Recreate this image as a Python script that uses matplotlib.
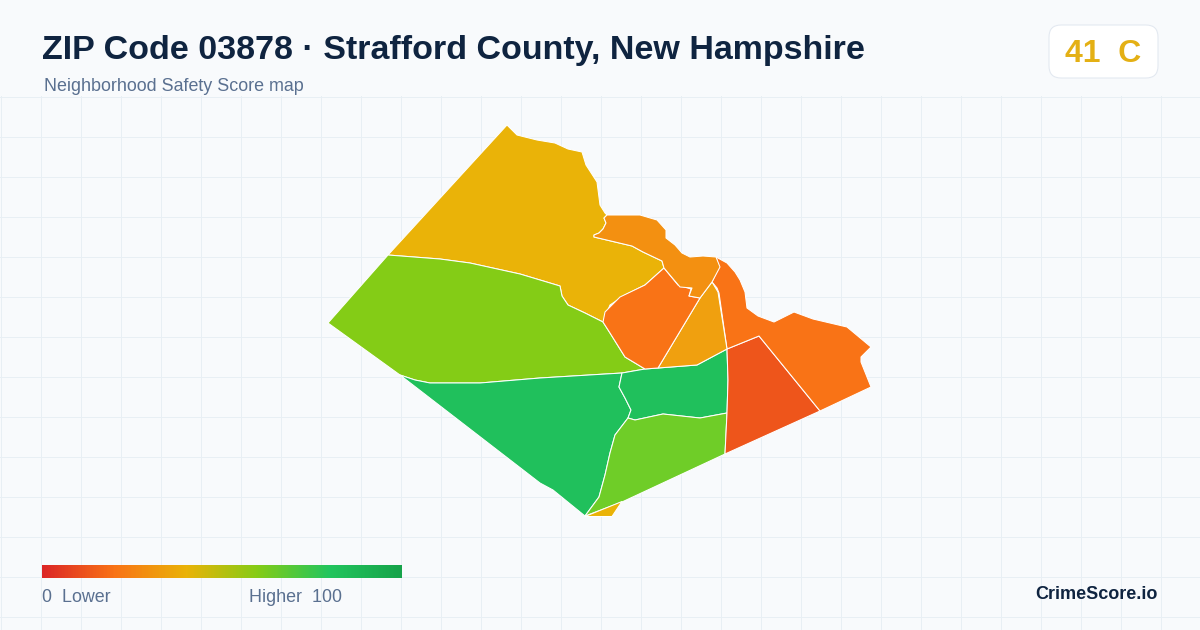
import matplotlib
matplotlib.use('Agg')
import matplotlib.pyplot as plt
from matplotlib.colors import LinearSegmentedColormap
from matplotlib.patches import FancyBboxPatch, Polygon
import numpy as np

plt.rcParams['font.family'] = ['Liberation Sans', 'DejaVu Sans']

# Area outlines
north_area = [(507, 125), (517, 135), (537, 140), (555, 143), (568, 149), (582, 152), (586, 165), (597, 182),
              (600, 205), (605, 213), (607, 215), (604, 218), (606, 223), (603, 229), (599, 233), (594, 235), (594, 237),
              (632, 246), (643, 252), (662, 261), (664, 268), (645, 285), (625, 295), (610, 305), (603, 322),
              (585, 313), (568, 305), (562, 296), (560, 286), (520, 274), (470, 263), (440, 259), (388, 255)]
west_area = [(388, 255), (440, 259), (470, 263), (520, 274), (560, 286), (562, 296), (568, 305), (585, 313),
             (603, 322), (610, 333), (625, 357), (645, 369), (622, 373), (540, 378), (480, 383), (430, 383),
             (415, 380), (400, 375), (328, 323)]
southwest_area = [(400, 375), (415, 380), (430, 383), (480, 383), (540, 378), (622, 373), (619, 387), (625, 398),
                  (631, 410), (628, 418), (615, 435), (610, 453), (605, 475), (599, 497), (585, 516), (553, 490),
                  (540, 483)]
middle_area = [(622, 373), (645, 369), (658, 368), (697, 365), (712, 357), (727, 349), (728, 380), (727, 413),
               (700, 418), (663, 414), (635, 420), (628, 418), (631, 410), (625, 398), (619, 387)]
south_area = [(628, 418), (635, 420), (663, 414), (700, 418), (727, 413), (725, 454), (622, 502), (585, 516),
              (599, 497), (605, 475), (610, 453), (615, 435)]
sliver_area = [(585, 516.5), (622, 501.5), (612, 516.5)]
southeast_area = [(727, 349), (759, 336), (820, 411), (725, 454), (727, 413), (728, 380)]
east_area = [(716, 257), (727, 263), (735, 272), (740, 280), (745, 292), (747, 308), (758, 316), (774, 322),
             (794, 312), (813, 319), (847, 327), (871, 347), (861, 357), (861, 362), (871, 387), (820, 411),
             (759, 336), (727, 349), (719, 293), (717, 288), (712, 282), (719, 267)]
wedge_area = [(712, 282), (718, 292), (727, 349), (712, 357), (697, 365), (658, 368), (700, 298)]
center_area = [(664, 268), (678, 285), (691, 289), (689, 296), (700, 298), (658, 368), (645, 369), (625, 357),
               (610, 333), (603, 322), (605, 312), (620, 297), (645, 285)]
river_area = [(607, 215), (640, 215), (657, 220), (666, 230), (666, 238), (675, 245), (682, 253), (690, 257),
              (703, 256), (716, 257), (720, 267), (712, 282), (700, 298), (689, 296), (692, 288), (680, 287),
              (664, 268), (662, 261), (643, 252), (632, 246), (594, 237), (594, 235), (599, 233), (603, 229),
              (606, 223), (604, 218)]

area_shapes = [north_area, west_area, southwest_area, middle_area, south_area, sliver_area,
               southeast_area, east_area, wedge_area, center_area, river_area]
area_colors = ['#eab308', '#84cc16', '#20c05c', '#20c05c', '#6fcd28', '#eab308',
               '#ee551b', '#f97316', '#f0a00f', '#f97316', '#f39011']

legend_colors = ['#dc2626', '#f97316', '#eab308', '#84cc16', '#22c55e', '#16a34a']

fig = plt.figure(figsize=(12, 6.3), dpi=100, facecolor='#f8fafc')
ax = fig.add_axes([0, 0, 1, 1])
ax.set_xlim(0, 1200)
ax.set_ylim(630, 0)
ax.axis('off')

# Background grid, only below the header
for x in range(0, 1200, 40):
    ax.plot([x + 0.5, x + 0.5], [96, 630], color='#e8eff4', lw=0.72, zorder=1)
for y in range(96, 630, 40):
    ax.plot([0, 1200], [y + 0.5, y + 0.5], color='#e8eff4', lw=0.72, zorder=1)

for shape, color in zip(area_shapes, area_colors):
    ax.add_patch(Polygon(shape, closed=True, facecolor=color, edgecolor='white', lw=0.75,
                         joinstyle='round', zorder=2))

# Header
ax.text(42, 59, 'ZIP Code 03878 · Strafford County, New Hampshire', fontsize=24.45, fontweight='bold',
        color='#0f2440', va='baseline', zorder=5)
ax.text(44, 91, 'Neighborhood Safety Score map', fontsize=12.9, color='#5a7090', va='baseline', zorder=5)

# Score badge
ax.add_patch(FancyBboxPatch((1061, 37), 85, 29, boxstyle='round,pad=12,rounding_size=12',
                            facecolor='white', edgecolor='#e2e8f0', lw=0.75, zorder=4))
ax.text(1103, 62, '41  C', fontsize=23, fontweight='bold', color='#e4b014', ha='center', va='baseline', zorder=5)

# Legend
gradient = LinearSegmentedColormap.from_list('score', legend_colors)
ax.imshow(np.linspace(0, 1, 360).reshape(1, -1), cmap=gradient, extent=(42, 402, 578, 565), aspect='auto', zorder=3)
ax.set_xlim(0, 1200)
ax.set_ylim(630, 0)
ax.text(42, 602, '0  Lower', fontsize=12.9, color='#5a7090', va='baseline', zorder=5)
ax.text(249, 602, 'Higher  100', fontsize=12.9, color='#5a7090', va='baseline', zorder=5)

ax.text(1158, 599, 'CrimeScore.io', fontsize=13, fontweight='bold', color='#0f2440', ha='right',
        va='baseline', zorder=5)

fig.savefig('out.png', dpi=100, facecolor=fig.get_facecolor())
